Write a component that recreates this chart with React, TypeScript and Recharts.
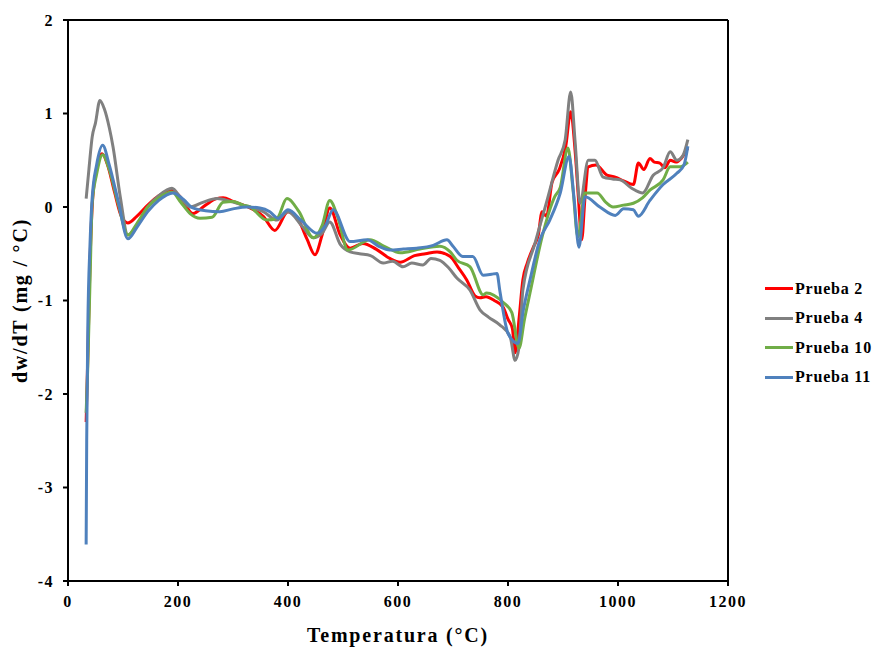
import { LineChart, Line, XAxis, YAxis, ReferenceLine } from "recharts";

// temperature (°C) and dw/dT (mg/°C)
const tempP2 = [33, 36, 40, 45, 52, 62, 72, 85, 97, 109, 125, 145, 165, 189, 205, 227, 250, 270, 282, 300, 331, 355, 376, 400, 420, 435, 449, 462, 476, 495, 513, 536, 560, 585, 604, 630, 650, 671, 695, 710, 725, 740, 749, 760, 775, 791, 800, 808, 813, 820, 827, 835, 846, 855, 862, 870, 880, 893, 905, 914, 922, 928, 934, 940, 946, 960, 980, 995, 1010, 1028, 1037, 1047, 1058, 1066, 1076, 1085, 1095, 1105, 1115, 1127];
const valP2 = [-2.3, -1.6, -0.6, 0.1, 0.4, 0.57, 0.45, 0.15, -0.1, -0.17, -0.1, 0.02, 0.12, 0.18, 0.1, -0.07, 0.02, 0.09, 0.1, 0.06, -0.01, -0.1, -0.25, -0.05, -0.15, -0.35, -0.51, -0.3, -0.01, -0.3, -0.44, -0.39, -0.45, -0.55, -0.59, -0.52, -0.5, -0.48, -0.53, -0.65, -0.78, -0.95, -0.97, -0.96, -1.0, -1.07, -1.2, -1.3, -1.56, -1.2, -0.78, -0.6, -0.43, -0.3, -0.05, -0.1, 0.26, 0.4, 0.65, 1.02, 0.6, 0.1, -0.35, 0.1, 0.43, 0.45, 0.34, 0.32, 0.28, 0.24, 0.47, 0.4, 0.52, 0.48, 0.47, 0.42, 0.5, 0.48, 0.52, 0.63];

const tempP4 = [33, 38, 44, 50, 58, 66, 75, 82, 95, 109, 125, 145, 165, 189, 205, 222, 245, 271, 295, 318, 331, 355, 380, 400, 425, 446, 462, 476, 495, 513, 530, 550, 573, 590, 609, 625, 645, 660, 676, 692, 707, 731, 749, 765, 785, 804, 813, 820, 827, 849, 871, 891, 904, 914, 922, 931, 946, 958, 973, 990, 1004, 1025, 1045, 1064, 1082, 1095, 1107, 1118, 1127];
const valP4 = [0.09, 0.4, 0.75, 0.9, 1.14, 1.05, 0.85, 0.64, 0.11, -0.3, -0.2, 0.0, 0.12, 0.2, 0.1, 0.0, 0.05, 0.09, 0.06, 0.02, 0.0, -0.05, -0.14, -0.05, -0.2, -0.33, -0.28, -0.16, -0.4, -0.48, -0.5, -0.52, -0.6, -0.58, -0.64, -0.6, -0.62, -0.55, -0.57, -0.65, -0.76, -0.89, -1.1, -1.18, -1.26, -1.39, -1.64, -1.5, -0.89, -0.39, 0.07, 0.5, 0.72, 1.23, 0.7, 0.04, 0.5, 0.5, 0.32, 0.3, 0.29, 0.2, 0.15, 0.34, 0.42, 0.59, 0.5, 0.55, 0.72];

const tempP10 = [33, 36, 40, 44, 52, 63, 75, 91, 109, 125, 145, 165, 189, 205, 222, 240, 262, 282, 300, 318, 331, 361, 380, 398, 420, 446, 462, 476, 490, 509, 549, 575, 604, 640, 676, 695, 707, 731, 755, 761, 791, 807, 820, 830, 840, 862, 885, 895, 909, 918, 927, 940, 962, 978, 991, 1010, 1028, 1045, 1058, 1082, 1095, 1113, 1127];
const valP10 = [-2.2, -1.7, -0.8, 0.04, 0.35, 0.56, 0.4, 0.04, -0.3, -0.18, 0.0, 0.1, 0.16, 0.05, -0.07, -0.12, -0.11, 0.05, 0.06, 0.02, 0.0, -0.14, -0.12, 0.09, -0.05, -0.33, -0.2, 0.07, -0.1, -0.46, -0.35, -0.42, -0.49, -0.45, -0.42, -0.48, -0.57, -0.64, -0.94, -0.92, -1.02, -1.13, -1.51, -1.2, -0.92, -0.32, 0.11, 0.21, 0.63, 0.2, -0.32, 0.15, 0.15, 0.05, 0.0, 0.02, 0.04, 0.1, 0.18, 0.29, 0.43, 0.43, 0.48];

const tempP11 = [33, 34, 36, 40, 44, 52, 63, 75, 91, 109, 125, 145, 165, 191, 210, 227, 250, 276, 300, 325, 349, 367, 382, 400, 425, 453, 468, 482, 513, 544, 565, 585, 610, 634, 664, 689, 700, 718, 736, 755, 770, 780, 785, 800, 818, 828, 840, 858, 876, 895, 911, 920, 929, 940, 967, 995, 1010, 1028, 1037, 1058, 1082, 1107, 1120, 1127];
const valP11 = [-3.61, -2.5, -1.3, -0.4, 0.1, 0.45, 0.66, 0.45, 0.07, -0.34, -0.22, -0.05, 0.07, 0.15, 0.08, -0.01, -0.04, -0.05, -0.02, 0.0, -0.01, -0.05, -0.12, -0.03, -0.15, -0.28, -0.2, -0.03, -0.37, -0.35, -0.42, -0.46, -0.45, -0.44, -0.41, -0.35, -0.42, -0.53, -0.53, -0.73, -0.72, -0.71, -0.89, -1.35, -1.46, -1.1, -0.78, -0.35, -0.14, 0.15, 0.54, 0.1, -0.43, 0.11, 0.0, -0.09, -0.02, -0.03, -0.1, 0.07, 0.24, 0.36, 0.45, 0.65];

const xTicks = [0, 200, 400, 600, 800, 1000, 1200];
const yTicks = [-4, -3, -2, -1, 0, 1, 2];

const zip = (t: number[], v: number[]) => t.map((x, i) => ({ t: x, v: v[i] }));

const series = [
  { name: "Prueba 2", color: "#ff0000", data: zip(tempP2, valP2) },
  { name: "Prueba 4", color: "#808080", data: zip(tempP4, valP4) },
  { name: "Prueba 10", color: "#70ad47", data: zip(tempP10, valP10) },
  { name: "Prueba 11", color: "#4f81bd", data: zip(tempP11, valP11) },
];

const font = "'Liberation Serif', 'Times New Roman', serif";
const tickStyle = { fill: "#000", fontFamily: font, fontWeight: 700, fontSize: 16, letterSpacing: 1.5 };

// legend drawn as plain html next to the plot
function LegendBox() {
  return (
    <div
      style={{
        position: "absolute",
        left: 757,
        top: 266,
        fontFamily: font,
        fontWeight: 700,
        fontSize: 16,
        letterSpacing: 0.8,
        color: "#000",
      }}
    >
      {series.map((s) => (
        <div key={s.name} style={{ display: "flex", alignItems: "center", height: 29.5 }}>
          <span style={{ display: "inline-block", width: 28, height: 3, background: s.color, marginRight: 2 }} />
          <span>{s.name}</span>
        </div>
      ))}
    </div>
  );
}

export default function App() {
  return (
    <div style={{ position: "relative", width: 873, height: 641 }}>
      <LineChart width={873} height={641} margin={{ top: 12, right: 153, bottom: 0, left: 0 }}>
        <XAxis
          type="number"
          dataKey="t"
          domain={[0, 1200]}
          ticks={xTicks}
          allowDuplicatedCategory={false}
          stroke="#000"
          strokeWidth={2}
          tickSize={5}
          tickMargin={10}
          tick={tickStyle}
          height={68}
          label={{ value: "Temperatura (°C)", position: "center", dy: 20, style: { fill: "#000", fontFamily: font, fontWeight: 700, fontSize: 20, letterSpacing: 1.8 } }}
        />
        <YAxis
          type="number"
          domain={[-4, 2]}
          ticks={yTicks}
          stroke="#000"
          strokeWidth={2}
          tickSize={5}
          tickMargin={9}
          tick={tickStyle}
          width={60}
          label={{ value: "dw/dT (mg / °C)", angle: -90, position: "center", dx: -18, style: { fill: "#000", fontFamily: font, fontWeight: 700, fontSize: 20, letterSpacing: 1.8, textAnchor: "middle" } }}
        />
        <ReferenceLine y={2} stroke="#000" strokeWidth={2} />
        <ReferenceLine x={1200} stroke="#000" strokeWidth={2} />
        {series.map((s) => (
          <Line
            key={s.name}
            data={s.data}
            dataKey="v"
            name={s.name}
            type="monotone"
            stroke={s.color}
            strokeWidth={3}
            dot={false}
            isAnimationActive={false}
          />
        ))}
      </LineChart>
      <LegendBox />
    </div>
  );
}
